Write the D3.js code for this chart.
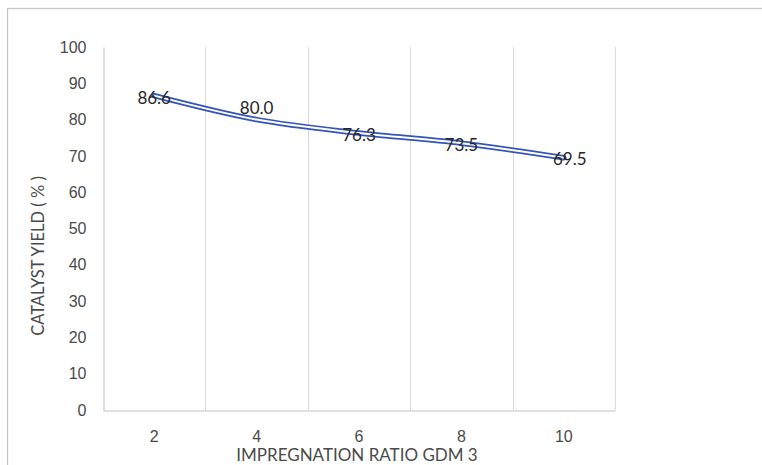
<!DOCTYPE html>
<html>
<head>
<meta charset="utf-8">
<script src="https://cdn.jsdelivr.net/npm/d3@7"></script>
<style>
  html, body { margin: 0; padding: 0; background: #fff; }
  svg { display: block; font-family: Lato, "Open Sans", sans-serif; }
</style>
</head>
<body>
<svg id="chart" width="762" height="465"></svg>
<script>
// Catalyst yield vs. impregnation ratio
const categories = ["2", "4", "6", "8", "10"];
const yieldValues = [86.6, 80.0, 76.3, 73.5, 69.5];
const yTicks = [0, 10, 20, 30, 40, 50, 60, 70, 80, 90, 100];
// label offsets (dx, dy) relative to each point
const labelShift = [[0, 2], [0, -12], [0, 2], [0, 2], [6, 1]];

const svg = d3.select("#chart");
const W = 762, H = 465;
const plot = { left: 103, right: 615, top: 47, bottom: 410 };

// outer chart frame
svg.append("rect")
  .attr("x", 7.5).attr("y", 8.5)
  .attr("width", W + 10).attr("height", H + 10)
  .attr("fill", "#fff").attr("stroke", "#c4c4c4").attr("stroke-width", 1.2);

const x = d3.scaleBand().domain(categories).range([plot.left, plot.right]).padding(0);
const y = d3.scaleLinear().domain([0, 100]).range([plot.bottom, plot.top]);

// vertical gridlines at band boundaries
const bounds = categories.map(c => x(c)).concat([plot.right]);
svg.append("g").selectAll("line").data(bounds.slice(1)).join("line")
  .attr("x1", d => Math.round(d) + 0.5).attr("x2", d => Math.round(d) + 0.5)
  .attr("y1", plot.top).attr("y2", plot.bottom)
  .attr("stroke", "#d9d9d9").attr("stroke-width", 1);

// y axis
const yAxis = svg.append("g")
  .attr("transform", `translate(${plot.left + 0.5},0)`)
  .call(d3.axisLeft(y).tickValues(yTicks).tickSize(0).tickPadding(17));
yAxis.select(".domain").attr("stroke", "#bfbfbf");
yAxis.selectAll("text").attr("fill", "#4a4a4a").attr("font-size", 16);

// x axis
const xAxis = svg.append("g")
  .attr("transform", `translate(0,${plot.bottom + 0.5})`)
  .call(d3.axisBottom(x).tickSize(0).tickPadding(20));
xAxis.select(".domain").attr("stroke", "#bfbfbf");
xAxis.selectAll("text").attr("fill", "#4a4a4a").attr("font-size", 16);

// axis titles
svg.append("text")
  .attr("x", 357).attr("y", 461)
  .attr("text-anchor", "middle").attr("fill", "#4a4a4a").attr("font-size", 17)
  .text("IMPREGNATION RATIO GDM 3");
svg.append("text")
  .attr("transform", `translate(44,256) rotate(-90)`)
  .attr("text-anchor", "middle").attr("fill", "#4a4a4a").attr("font-size", 16.5)
  .text("CATALYST YIELD ( % )");

// double-stroke series line
const line = d3.line()
  .x((d, i) => x(categories[i]) + x.bandwidth() / 2)
  .y(d => y(d))
  .curve(d3.curveMonotoneX);
svg.append("path").datum(yieldValues)
  .attr("d", line).attr("fill", "none")
  .attr("stroke", "#3355b8").attr("stroke-width", 5.5).attr("stroke-linecap", "round");
svg.append("path").datum(yieldValues)
  .attr("d", line).attr("fill", "none")
  .attr("stroke", "#fff").attr("stroke-width", 2);

// value labels
svg.append("g").selectAll("text").data(yieldValues).join("text")
  .attr("x", (d, i) => x(categories[i]) + x.bandwidth() / 2 + labelShift[i][0])
  .attr("y", (d, i) => y(d) + labelShift[i][1])
  .attr("dy", "0.35em")
  .attr("text-anchor", "middle")
  .attr("fill", "#262626").attr("font-size", 17)
  .text(d => d.toFixed(1));
</script>
</body>
</html>
